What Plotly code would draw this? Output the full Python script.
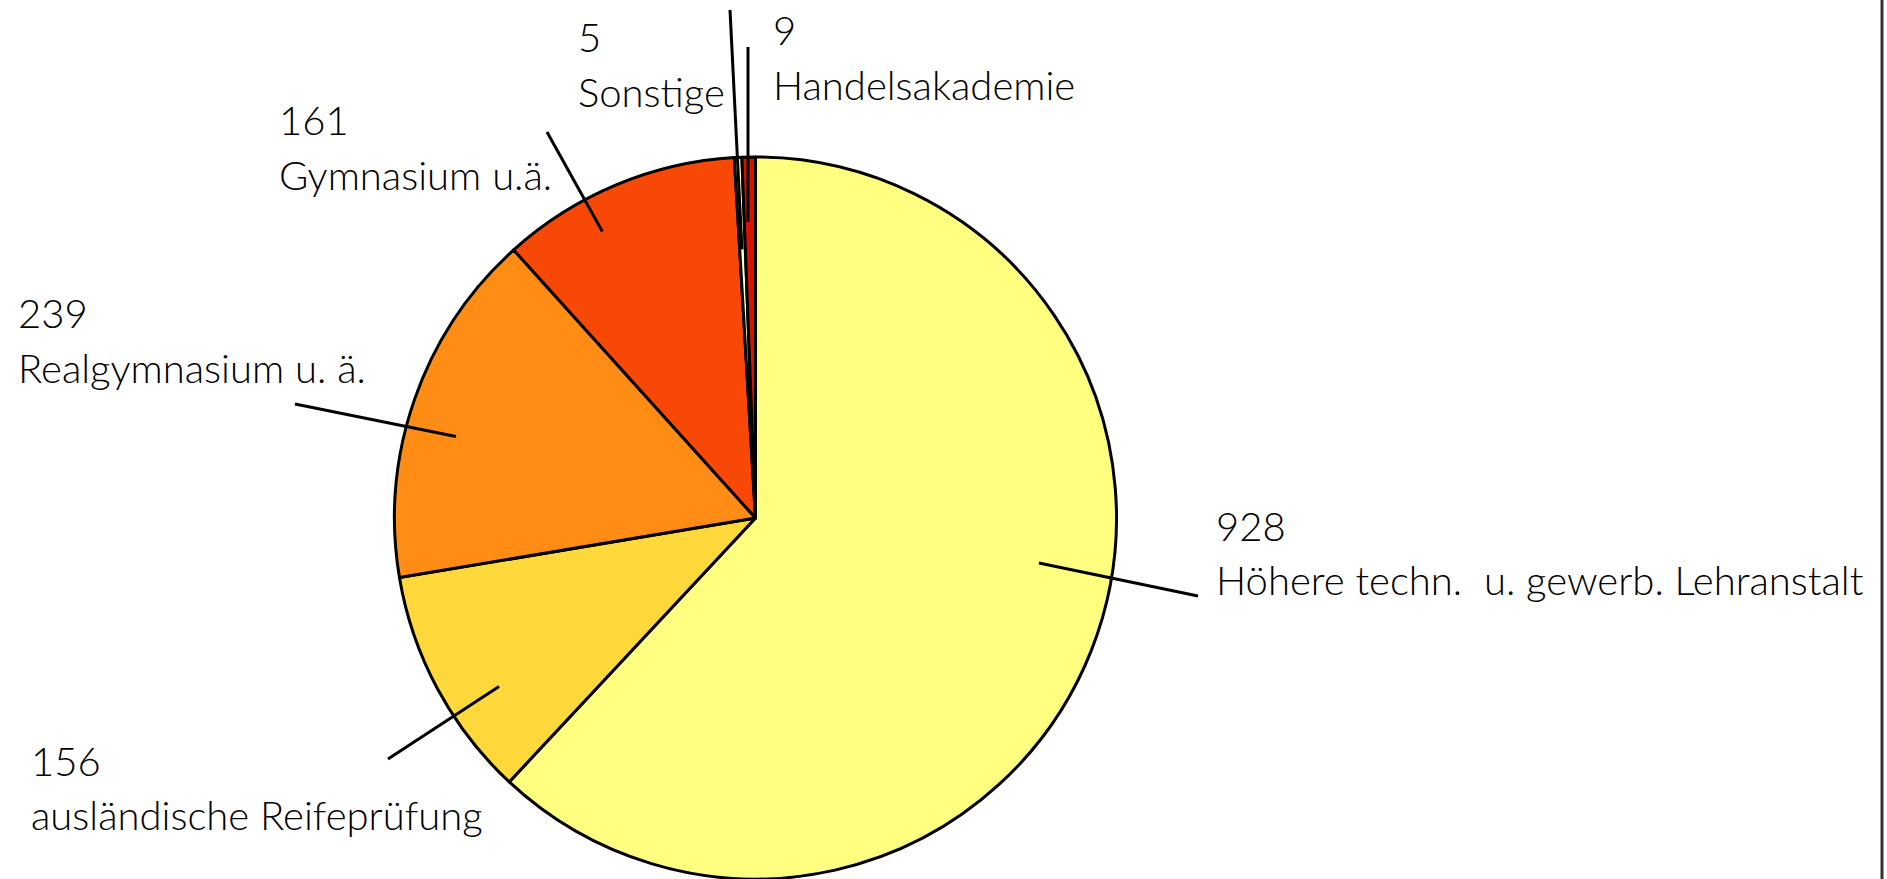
import math
import plotly.graph_objects as go

# ---------------- data ----------------
categories = [
    "Höhere techn.\u00a0 u. gewerb. Lehranstalt",
    "ausländische Reifeprüfung",
    "Realgymnasium u. ä.",
    "Gymnasium u.ä.",
    "Sonstige",
    "Handelsakademie",
]
values = [928, 156, 239, 161, 5, 9]

# ---------------- style / layout ----------------
colors = ["#ffff80", "#ffd83c", "#ff8c14", "#f84808", "#ffffc8", "#d41400"]
W, H = 1887, 879
PAGE_OFF = 0                              # body margin removed below
CX, CY, R = 755.5, 518.0, 361.0          # pie centre / radius in page pixels
FONT = "Lato, 'Liberation Sans', Arial, sans-serif"
FS = 40

# label block: left x, baseline of number line, baseline of name line (page pixels)
label_x = [1215, 30, 17, 278, 577, 772]
num_base = [541, 776, 328, 135, 52, 45]
name_base = [595, 830, 383, 190, 107, 100]
# leader line: outer end (pixels), inner end as (fraction of slice sweep, fraction of radius)
leader_out = [(1198, 596), (388, 759), (295, 404), (547, 132), (730, 10), (748, 47)]
leader_in = [(0.444, 0.795), (0.365, 0.85), (0.43, 0.86), (0.36, 0.90), (0.40, 0.745), (0.33, 0.82)]


def px(x):
    return (x - PAGE_OFF) / W


def py(y):
    return 1 - (y - PAGE_OFF) / H


fig = go.Figure(
    go.Pie(
        labels=categories,
        values=values,
        sort=False,
        direction="clockwise",
        rotation=0,
        textinfo="none",
        hoverinfo="label+value",
        marker=dict(colors=colors, line=dict(color="black", width=3)),
        domain=dict(x=[px(CX - R), px(CX + R)], y=[py(CY + R), py(CY - R)]),
        showlegend=False,
    )
)

total = sum(values)
shapes = []
annotations = []
cum = 0.0
BASE_OFF = 0.387 * FS  # distance from text-box centre to baseline
for i, (cat, v) in enumerate(zip(categories, values)):
    a0 = 360.0 * cum / total
    sweep = 360.0 * v / total
    cum += v
    frac, rf = leader_in[i]
    ang = math.radians(a0 + frac * sweep)
    ix = CX + rf * R * math.sin(ang)
    iy = CY - rf * R * math.cos(ang)
    ox, oy = leader_out[i]
    shapes.append(dict(type="line", xref="paper", yref="paper",
                       x0=px(ix), y0=py(iy), x1=px(ox), y1=py(oy),
                       line=dict(color="black", width=3)))
    for txt, base in ((str(v), num_base[i]), (cat, name_base[i])):
        annotations.append(dict(
            xref="paper", yref="paper", x=px(label_x[i]), y=py(base - BASE_OFF),
            xanchor="left", yanchor="middle", showarrow=False, text=txt,
            borderpad=0, font=dict(family=FONT, size=FS, color="#000000", weight=300),
        ))

# right-hand frame edge
shapes.append(dict(type="line", xref="paper", yref="paper",
                   x0=px(1882), x1=px(1882), y0=0, y1=1,
                   line=dict(color="#333333", width=3)))

fig.update_layout(
    width=W, height=H, autosize=False,
    margin=dict(l=0, r=0, t=0, b=0),
    paper_bgcolor="white", plot_bgcolor="white",
    shapes=shapes, annotations=annotations,
)

fig.write_html(
    "out.html",
    config={"displayModeBar": False},
    post_script="document.body.style.margin='0';document.body.style.overflow='hidden';",
)
